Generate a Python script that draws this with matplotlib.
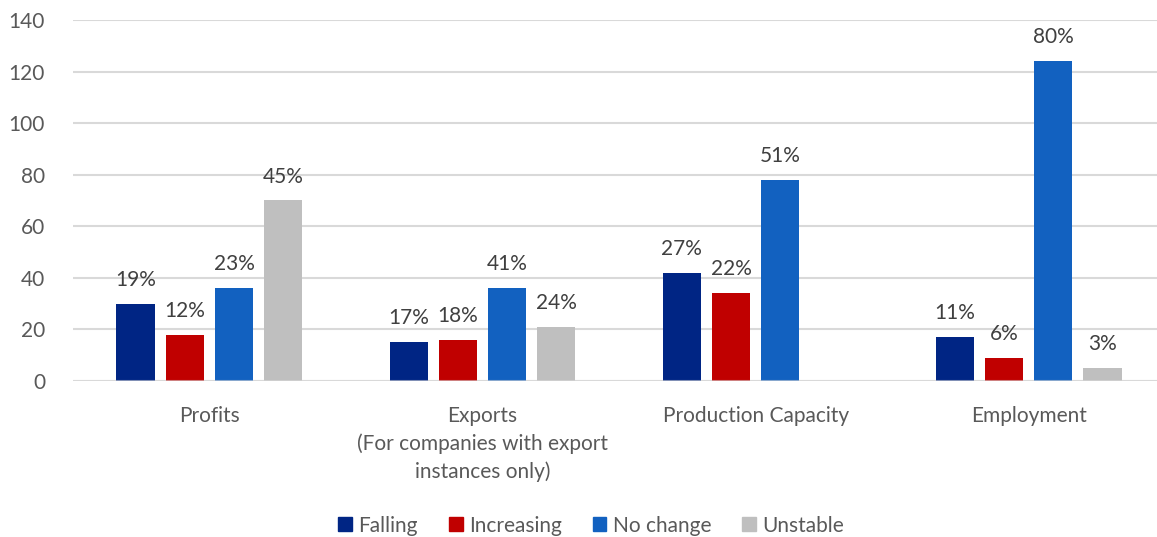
import matplotlib.pyplot as plt
import numpy as np
from matplotlib.patches import Patch

categories = ["Profits",
              "Exports\n(For companies with export\ninstances only)",
              "Production Capacity",
              "Employment"]
series = ["Falling", "Increasing", "No change", "Unstable"]

falling = [30, 15, 42, 17]
increasing = [18, 16, 34, 9]
no_change = [36, 36, 78, 124]
unstable = [70, 21, 0, 5]

falling_pct = ["19%", "17%", "27%", "11%"]
increasing_pct = ["12%", "18%", "22%", "6%"]
no_change_pct = ["23%", "41%", "51%", "80%"]
unstable_pct = ["45%", "24%", "", "3%"]

yticks = [0, 20, 40, 60, 80, 100, 120, 140]

values = [falling, increasing, no_change, unstable]
pct_labels = [falling_pct, increasing_pct, no_change_pct, unstable_pct]
colors = ["#002584", "#C00000", "#1261C0", "#BFBFBF"]

plt.rcParams['font.family'] = ['Lato', 'DejaVu Sans']

fig = plt.figure(figsize=(11.57, 5.37), dpi=100)
ax = fig.add_axes([0.063, 0.2905, 0.937, 0.6723])

x = np.arange(len(categories))
pitch = 0.18
width = 0.141
for i, (vals, labs, col) in enumerate(zip(values, pct_labels, colors)):
    pos = x + (i - 1.5) * pitch
    bars = ax.bar(pos, vals, width=width, color=col, zorder=3)
    for b, v, lab in zip(bars, vals, labs):
        if lab:
            ax.annotate(lab, (b.get_x() + b.get_width() / 2, v),
                        xytext=(0, 10), textcoords='offset points',
                        ha='center', va='bottom', fontsize=15,
                        color='#404040')

# faint baseline drawn across the bar bottoms
ax.axhline(0, color='#D9D9D9', linewidth=1.5, alpha=0.6, zorder=4)

ax.set_xlim(-0.5, 3.47)
ax.set_ylim(0, 140)
ax.set_yticks(yticks)
ax.yaxis.grid(True, color='#D9D9D9', linewidth=1.5, zorder=0)
ax.set_axisbelow(True)
for s in ax.spines.values():
    s.set_visible(False)
ax.tick_params(axis='both', length=0, labelsize=15, colors='#595959')
ax.tick_params(axis='y', pad=20)
ax.tick_params(axis='x', pad=18)
ax.set_xticks(x)
ax.set_xticklabels(categories, linespacing=1.45)

handles = [Patch(color=c, label=s) for c, s in zip(colors, series)]
fig.legend(handles=handles, loc='center', bbox_to_anchor=(0.511, 0.0214),
           ncol=4, frameon=False, fontsize=15, handlelength=0.65,
           handleheight=0.65, handletextpad=0.3, columnspacing=1.5,
           labelcolor='#595959', borderpad=0)

fig.savefig('out.png', dpi=100)
